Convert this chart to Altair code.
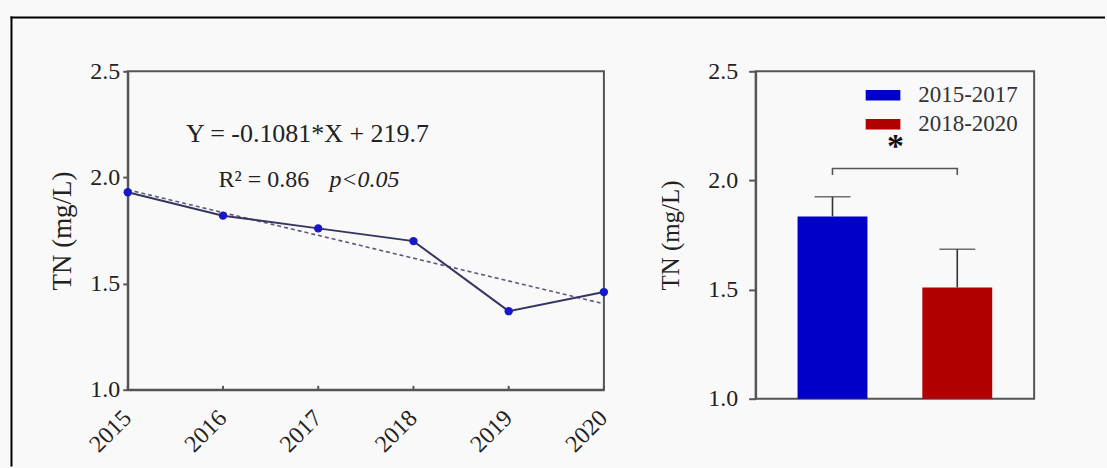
import altair as alt
import pandas as pd

# ---- data ----
years = [2015, 2016, 2017, 2018, 2019, 2020]
tn_values = [1.93, 1.82, 1.76, 1.70, 1.37, 1.46]

periods = ["2015-2017", "2018-2020"]
period_means = [1.835, 1.51]
period_sd = [0.09, 0.175]
period_colors = ["#0000c8", "#b00000"]

y_ticks = [1.0, 1.5, 2.0, 2.5]
equation_text = ["Y = -0.1081*X + 219.7"]
r2_text = ["R\u00b2 = 0.86"]
p_text = ["p<0.05"]
sig_text = ["*"]
bracket_x = ["2015-2017", "2015-2017", "2018-2020", "2018-2020"]
bracket_y = [2.025, 2.055, 2.055, 2.025]
sig_y = [2.17]

FONT = "Liberation Serif"

df_line = pd.DataFrame({"year": years, "tn": tn_values})
df_one = pd.DataFrame({"k": [0]})

# ---------------- left panel ----------------
x_left = alt.X(
    "year:Q",
    scale=alt.Scale(domain=[2015, 2020], nice=False, zero=False),
    axis=alt.Axis(values=years, format="d", labelAngle=-45, labelAlign="right",
                  labelBaseline="top", title=None, tickSize=0, labelPadding=16,
                  labelOffset=-9, labelFontSize=24),
)
y_left = alt.Y(
    "tn:Q",
    scale=alt.Scale(domain=[1.0, 2.5], nice=False, zero=False),
    axis=alt.Axis(values=y_ticks, format=".1f", title="TN (mg/L)", tickSize=5,
                  labelPadding=3, titlePadding=13, titleFontSize=27, labelFontSize=24),
)

frame_top = alt.Chart(df_one).mark_rule(color="black", strokeWidth=2).encode(
    x=alt.value(-117.5), x2=alt.value(979), y=alt.value(-54)
)
frame_left = alt.Chart(df_one).mark_rule(color="black", strokeWidth=2).encode(
    x=alt.value(-116.5), y=alt.value(-55), y2=alt.value(396)
)

base_left = alt.Chart(df_line)
reg = base_left.transform_regression("year", "tn").mark_line(
    strokeDash=[4, 3], color="#5a5a7a", strokeWidth=1.6
).encode(x=x_left, y=y_left)
line = base_left.mark_line(color="#353560", strokeWidth=2).encode(x=x_left, y=y_left)
pts = base_left.mark_point(filled=True, color="#1818c8", size=70, opacity=1).encode(x=x_left, y=y_left)
inner_ticks = base_left.mark_rule(color="#555", strokeWidth=2).encode(
    x=x_left, y=alt.datum(1.0), y2=alt.datum(1.018)
)

eq = alt.Chart(pd.DataFrame({"t": equation_text})).mark_text(
    font=FONT, fontSize=26, color="#222", align="center", baseline="middle"
).encode(x=alt.value(180), y=alt.value(63), text="t:N")
r2 = alt.Chart(pd.DataFrame({"t": r2_text})).mark_text(
    font=FONT, fontSize=24, color="#222", align="left", baseline="middle"
).encode(x=alt.value(91), y=alt.value(109), text="t:N")
pv = alt.Chart(pd.DataFrame({"t": p_text})).mark_text(
    font=FONT, fontSize=24, fontStyle="italic", color="#222", align="left", baseline="middle"
).encode(x=alt.value(202), y=alt.value(109), text="t:N")

left = alt.layer(frame_top, frame_left, reg, line, inner_ticks, pts, eq, r2, pv).properties(
    width=477, height=319
)

# ---------------- right panel ----------------
df_bar = pd.DataFrame({
    "period": periods,
    "mean": period_means,
    "upper": [m + s for m, s in zip(period_means, period_sd)],
})
x_right = alt.X(
    "period:N",
    scale=alt.Scale(domain=periods, paddingInner=0.44, paddingOuter=0.336),
    axis=None,
)
y_scale_r = alt.Scale(domain=[1.0, 2.5], nice=False, zero=False)
y_axis_r = alt.Axis(values=y_ticks, format=".1f", title="TN (mg/L)", tickSize=7,
                    labelPadding=11, titlePadding=24, titleFontSize=25, labelFontSize=24)

bars = alt.Chart(df_bar).mark_bar().encode(
    x=x_right,
    y=alt.Y("mean:Q", scale=y_scale_r, axis=y_axis_r),
    y2=alt.datum(1.0),
    color=alt.Color(
        "period:N",
        scale=alt.Scale(domain=periods, range=period_colors),
        legend=alt.Legend(
            title=None, orient="none", legendX=739, legendY=13,
            symbolType="M-1,-0.3H1V0.3H-1Z", symbolSize=1225, symbolStrokeWidth=0,
            symbolOpacity=1, labelFont=FONT, labelFontSize=23, labelColor="#333",
            labelOffset=18, clipHeight=22, rowPadding=6, padding=0,
        ),
    ),
)
stems = alt.Chart(df_bar).mark_rule(color="#333", strokeWidth=1.6).encode(
    x=x_right, y=alt.Y("mean:Q", scale=y_scale_r), y2="upper:Q"
)
caps = alt.Chart(df_bar).mark_tick(color="#333", size=36, thickness=1.6).encode(
    x=x_right, y=alt.Y("upper:Q", scale=y_scale_r)
)
df_br = pd.DataFrame({"period": bracket_x, "y": bracket_y, "o": list(range(len(bracket_x)))})
bracket = alt.Chart(df_br).mark_line(color="#555", strokeWidth=1.6).encode(
    x=x_right, y=alt.Y("y:Q", scale=y_scale_r), order="o:Q"
)
star = alt.Chart(pd.DataFrame({"t": sig_text, "y": sig_y})).mark_text(
    font=FONT, fontSize=34, fontWeight="bold", color="#111", align="center", baseline="middle", dy=4
).encode(x=alt.value(140), y=alt.Y("y:Q", scale=y_scale_r), text="t:N")

right = alt.layer(bars, stems, caps, bracket, star).properties(width=279, height=328)

chart = (
    alt.hconcat(left, right, spacing=152, bounds="flush")
    .properties(padding={"left": 8, "top": 14, "right": 0, "bottom": 0}, background="#f9f9f9")
    .configure_view(stroke="#555", strokeWidth=2)
    .configure_axis(
        labelFont=FONT, titleFont=FONT, labelColor="#222", titleColor="#222",
        domainColor="#555", domainWidth=2, tickColor="#555", tickWidth=2,
        grid=False, titleFontWeight="normal",
    )
)

chart.save("out.html", embed_options={"renderer": "svg", "actions": False})
